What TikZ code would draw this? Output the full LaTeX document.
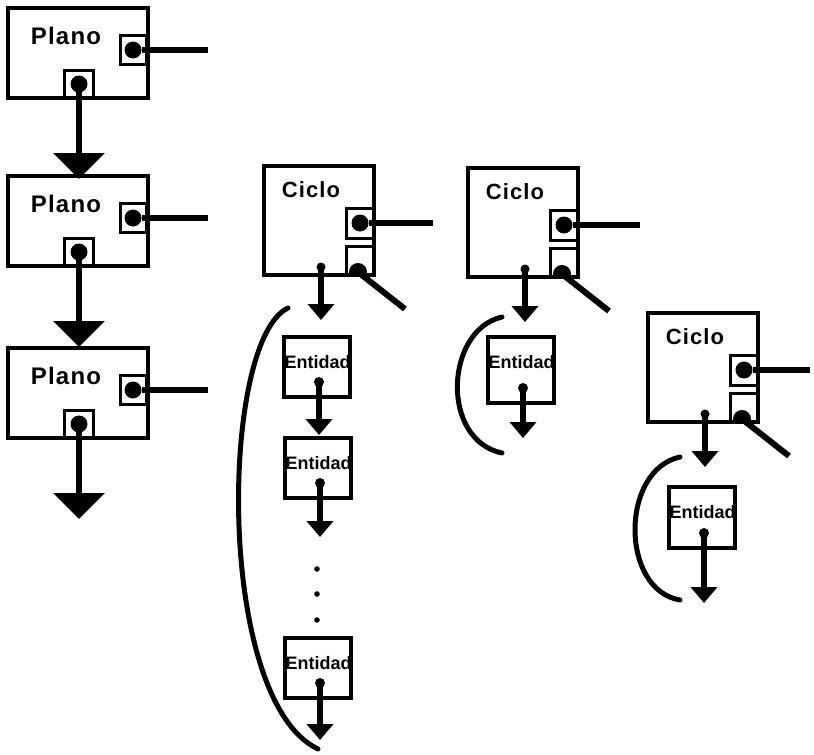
\documentclass[tikz,border=0pt]{standalone}
\usepackage{fontspec}
\setmainfont{Liberation Sans}
\newfontfamily\tagfont{Liberation Sans}[LetterSpace=5]
\usetikzlibrary{calc,arrows.meta}

\begin{document}
\begin{tikzpicture}[x=1pt,y=-1pt,
 box/.style={draw,line width=3.5pt,inner sep=0pt,outer sep=0pt,anchor=north west},
 port/.style={draw,line width=3pt,inner sep=0pt,outer sep=0pt},
 dot/.style={circle,fill,inner sep=0pt,minimum size=#1},
 link/.style={line width=6pt},
 bigarrow/.style={line width=6.5pt,-{Triangle[width=50pt,length=26pt]}},
 smallarrow/.style={line width=5.5pt,-{Triangle[width=26pt,length=16pt]}},
 tag/.style={font=\tagfont\bfseries\fontsize{#1}{#1}\selectfont,inner sep=0pt},
 etag/.style={font=\bfseries\fontsize{18}{18}\selectfont,inner sep=0pt,anchor=west}]
 \useasboundingbox (0,0) rectangle (814,755);
 \foreach \n/\by in {1/8,2/176,3/348} {
  \node[box,minimum width=140pt,minimum height=90pt] (p\n) at (8,\by) {};
  \node[tag=24] at ($(p\n.north west)+(58,28)$) {Plano};
  \node[port,minimum width=26pt,minimum height=29pt] (pr\n) at ($(p\n.north east)+(-15,42)$) {};
  \node[dot=17pt] (prd\n) at (pr\n.center) {};
  \coordinate (pre\n) at ($(pr\n.center)+(75,0)$);
  \draw[link] (prd\n) -- (pre\n);
  \node[port,minimum width=29pt,minimum height=28pt,anchor=south] (pb\n) at ($(p\n.south west)+(71,0)$) {};
  \node[dot=17pt] (pbd\n) at (pb\n.center) {};
  \coordinate (pbe\n) at ($(p\n.south west)+(71,81)$);
  \draw[bigarrow] (pbd\n.center) -- (pbe\n);
 }
 \foreach \n/\bx/\by/\len in {1/264/166/73,2/468/168/76,3/648/313/66} {
  \node[box,minimum width=110pt,minimum height=109pt] (c\n) at (\bx,\by) {};
  \node[tag=22] at ($(c\n.north west)+(47,24)$) {Ciclo};
  \node[port,minimum width=28pt,minimum height=30pt,anchor=east] (cr\n) at ($(c\n.north east)+(0,57)$) {};
  \node[dot=17pt] (crd\n) at (cr\n.center) {};
  \coordinate (cre\n) at ($(cr\n.center)+(\len,0)$);
  \draw[link] (crd\n) -- (cre\n);
  \node[port,minimum width=28pt,minimum height=29pt,anchor=south east] (cs\n) at (c\n.south east) {};
  \coordinate (csd\n) at ($(cs\n.south)+(-2,-3)$);
  \begin{scope} \clip (cs\n.south west) rectangle (cs\n.north east); \fill (csd\n) circle (9); \end{scope}
  \coordinate (cse\n) at ($(csd\n)+(47,37)$);
  \draw[link] (csd\n) -- (cse\n);
  \node[dot=9pt] (cd\n) at ($(c\n.south west)+(57,-8)$) {};
  \coordinate (ce\n) at ($(c\n.south west)+(57,45)$);
  \draw[smallarrow] (cd\n.center) -- (ce\n);
 }
 \foreach \n/\bx/\by/\bh/\tip in {1/284/337/60/435,2/285/438/60/537,3/285/638/60/740,4/488/337/66/438,5/669/487/61/603} {
  \node[box,minimum width=66pt,minimum height=\bh pt] (e\n) at (\bx,\by) {};
  \node[etag] at ($(e\n.north west)+(0.5,25)$) {Entidad};
  \node[dot=10pt] (ed\n) at ($(e\n.south)+(2,-15)$) {};
  \coordinate (ee\n) at (\bx+35,\tip);
  \draw[smallarrow] (ed\n.center) -- (ee\n);
 }
 \foreach \y in {569,594,620} \fill (317,\y) circle (2.8);
 \draw[line width=5pt,line cap=round] (288,308) .. controls (220,340) and (215,700) .. (318,749);
 \draw[line width=5pt,line cap=round] (502,317) .. controls (445,330) and (440,440) .. (502,453);
 \draw[line width=5pt,line cap=round] (680,457) .. controls (620,470) and (620,590) .. (680,600);
\end{tikzpicture}
\end{document}
